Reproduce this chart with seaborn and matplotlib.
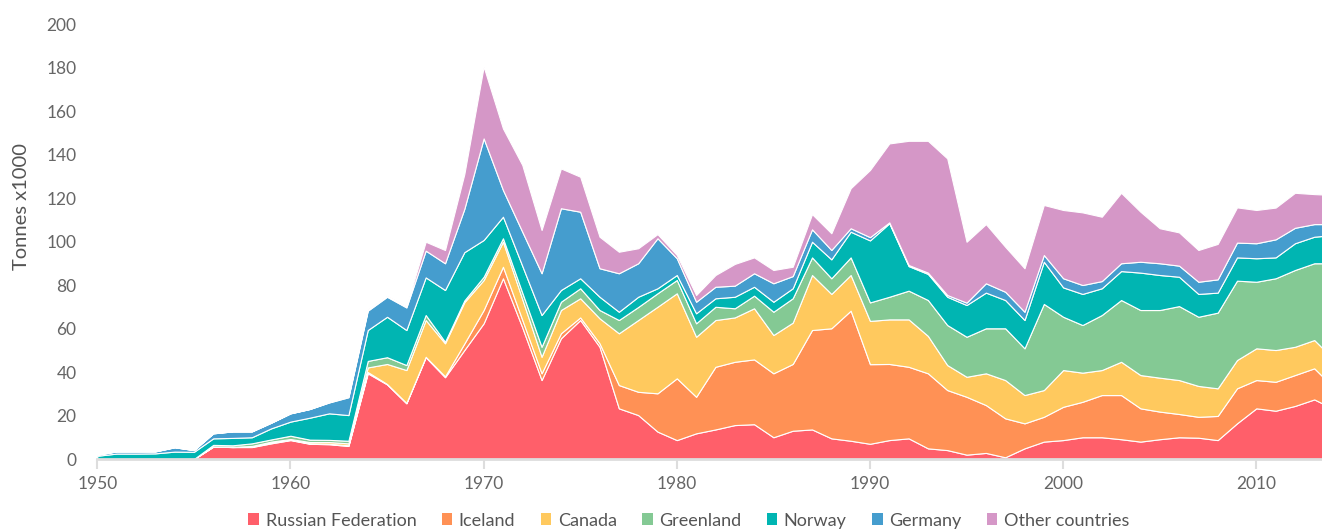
import matplotlib
matplotlib.use("Agg")
import matplotlib.pyplot as plt
from matplotlib.patches import Patch
import seaborn as sns
import pandas as pd

# Catch by country, thousand tonnes, 1950-2014
years = list(range(1950, 2015))

russia = [0, 0, 0, 0, 0, 0, 5.7, 5.5, 5.5, 7.2, 8.7, 7.0, 6.8, 6.0,
          39.4, 34.3, 25.6, 46.8, 37.6, 50.1, 62.4, 83.1, 60.5, 36.3, 55.5, 63.9,
          51.6, 23.3, 20.2, 12.6, 8.7, 11.8, 13.6, 15.6, 16.0, 10.0, 13.0, 13.6,
          9.5, 8.4, 7.0, 8.7, 9.5, 4.9, 4.1, 2.0, 2.8, 0.8, 4.9, 8.0, 8.7, 10.0,
          10.0, 9.1, 8.0, 9.1, 10.0, 9.8, 8.7, 16.4, 23.3, 22.2, 24.4, 27.4, 23.0]
iceland = [0, 0, 0, 0, 0, 0, 0, 0, 0.2, 0.4, 0.2, 0.2, 0.2, 0.3,
           0.6, 0.2, 0.2, 0.2, 0.4, 3.0, 6.1, 5.3, 3.5, 3.1, 2.3, 1.2,
           1.6, 10.7, 10.7, 17.6, 28.4, 16.8, 28.8, 29.1, 29.8, 29.4, 30.7, 45.7,
           50.6, 59.8, 36.6, 35.0, 32.9, 34.5, 27.6, 26.6, 22.0, 17.9, 11.5, 11.4,
           15.3, 16.3, 19.4, 20.3, 15.3, 12.7, 10.7, 9.6, 11.1, 16.1, 13.0, 13.3,
           14.2, 14.3, 9.9]
canada = [0, 0, 0, 0, 0, 0, 0.1, 0.1, 0.3, 0.4, 0.3, 0.6, 0.8, 0.9,
          2.1, 9.2, 15.1, 16.9, 15.2, 19.0, 13.8, 11.5, 9.5, 7.6, 10.7, 8.8,
          11.5, 23.8, 33.0, 39.8, 39.1, 27.6, 21.5, 20.4, 23.5, 17.6, 19.0, 25.3,
          15.8, 16.4, 19.9, 20.5, 21.8, 17.2, 11.5, 9.2, 14.6, 17.6, 13.0, 12.3,
          16.9, 13.4, 11.5, 15.3, 15.3, 15.6, 15.6, 14.2, 12.7, 13.0, 14.6, 14.6,
          13.0, 13.0, 13.0]
greenland = [0, 0, 0, 0, 0, 0, 0.7, 0.7, 1.2, 1.0, 1.5, 1.1, 1.0, 1.2,
             3.0, 3.1, 2.3, 2.3, 0.7, 0.8, 1.5, 1.6, 3.0, 4.6, 3.8, 4.6,
             3.8, 6.1, 6.0, 6.2, 6.1, 6.2, 6.1, 4.2, 5.8, 10.7, 11.2, 8.1,
             7.2, 8.1, 8.5, 10.4, 13.2, 16.5, 18.4, 18.4, 20.7, 23.8, 21.5, 39.6,
             24.5, 21.9, 25.3, 28.4, 29.9, 31.1, 34.0, 31.8, 34.8, 36.5, 30.6, 33.0,
             35.3, 35.3, 44.1]
norway = [1.5, 2.5, 2.5, 2.6, 3.4, 3.3, 3.0, 3.4, 2.8, 5.1, 6.5, 10.1, 12.2, 11.8,
          14.2, 18.6, 16.1, 17.3, 23.8, 22.2, 16.9, 9.9, 12.3, 14.6, 5.4, 4.6,
          6.1, 3.8, 4.7, 2.3, 2.3, 4.6, 3.9, 5.3, 4.1, 4.6, 4.6, 7.2,
          8.7, 11.8, 28.5, 33.8, 11.3, 12.0, 13.0, 14.6, 16.4, 13.0, 13.0, 19.4,
          13.5, 14.3, 12.3, 13.3, 17.2, 16.1, 13.5, 10.5, 9.2, 10.7, 10.8, 9.6,
          12.3, 12.2, 13.0]
germany = [0.5, 1.0, 1.0, 0.9, 2.0, 0.8, 2.3, 3.0, 2.7, 2.6, 3.8, 4.0, 5.0, 8.2,
           8.9, 9.2, 10.4, 12.3, 12.3, 19.9, 46.7, 12.3, 15.7, 19.2, 37.6, 30.6,
           13.1, 17.7, 15.4, 23.0, 7.7, 5.3, 5.3, 5.1, 6.2, 8.5, 5.6, 5.7,
           4.3, 1.6, 1.5, 0.4, 0.5, 0.6, 0.8, 1.1, 4.3, 3.8, 3.8, 3.1,
           4.2, 4.1, 3.3, 3.6, 5.0, 5.4, 5.1, 5.6, 6.1, 6.8, 6.9, 8.3,
           7.1, 5.8, 5.0]
other = [0, 0, 0, 0, 0, 0, 0, 0, 0, 0, 0, 0, 0.2, 0.4,
         0.6, 0.5, 0.6, 4.1, 6.1, 16.0, 33.0, 28.3, 30.7, 19.9, 18.3, 16.1,
         14.5, 9.9, 6.9, 1.9, 1.5, 3.1, 5.4, 10.0, 7.3, 6.1, 4.3, 7.0,
         7.7, 18.4, 30.9, 36.3, 57.1, 60.6, 62.8, 28.0, 27.2, 20.7, 20.0, 23.0,
         31.4, 33.4, 29.6, 32.4, 23.0, 16.1, 15.3, 14.6, 16.3, 16.2, 15.3, 14.6,
         16.1, 13.8, 13.4]

countries = ["Russian Federation", "Iceland", "Canada", "Greenland",
             "Norway", "Germany", "Other countries"]
colors = ["#ff5f6a", "#ff9155", "#ffc95e", "#84c994",
          "#00b5b2", "#459dce", "#d597c7"]

yticks = [0, 20, 40, 60, 80, 100, 120, 140, 160, 180, 200]
xticks = [1950, 1960, 1970, 1980, 1990, 2000, 2010]

df = pd.DataFrame({"year": years, "Russian Federation": russia, "Iceland": iceland,
                   "Canada": canada, "Greenland": greenland, "Norway": norway,
                   "Germany": germany, "Other countries": other})

sns.set_theme(style="white")
plt.rcParams["font.family"] = ["Lato", "DejaVu Sans"]

fig = plt.figure(figsize=(13.22, 5.29), dpi=100)
ax = fig.add_axes([0.0736, 0.1323, 0.9264, 0.8223])

ax.stackplot(df["year"], [df[c] for c in countries], colors=colors,
             edgecolor="white", linewidth=0.8)

ax.set_xlim(1950, 2013.4)
ax.set_ylim(0, 200)
ax.set_xticks(xticks)
ax.set_yticks(yticks)
ax.set_xticklabels([str(x) for x in xticks], fontsize=12.5, color="#666666")
ax.set_yticklabels([str(y) for y in yticks], fontsize=12.5, color="#666666")

for side in ["top", "right", "left"]:
    ax.spines[side].set_visible(False)
ax.spines["bottom"].set_color("#dddddd")
ax.spines["bottom"].set_linewidth(2)
ax.tick_params(axis="x", length=7, width=1.5, color="#dddddd", pad=5, bottom=True)
ax.tick_params(axis="y", length=0, pad=15)
ax.grid(False)

ax.set_ylabel("Tonnes x1000", fontsize=14.5, color="#555555")
ax.yaxis.set_label_coords(-0.055, 0.58)

handles = [Patch(facecolor=c, edgecolor="none") for c in colors]
fig.legend(handles, countries, loc="center", bbox_to_anchor=(0.521, 0.016),
           ncol=7, frameon=False, fontsize=13, handlelength=0.6, handleheight=0.6,
           handletextpad=0.35, columnspacing=1.4, labelcolor="#555555")

fig.savefig("out.png", dpi=100)
